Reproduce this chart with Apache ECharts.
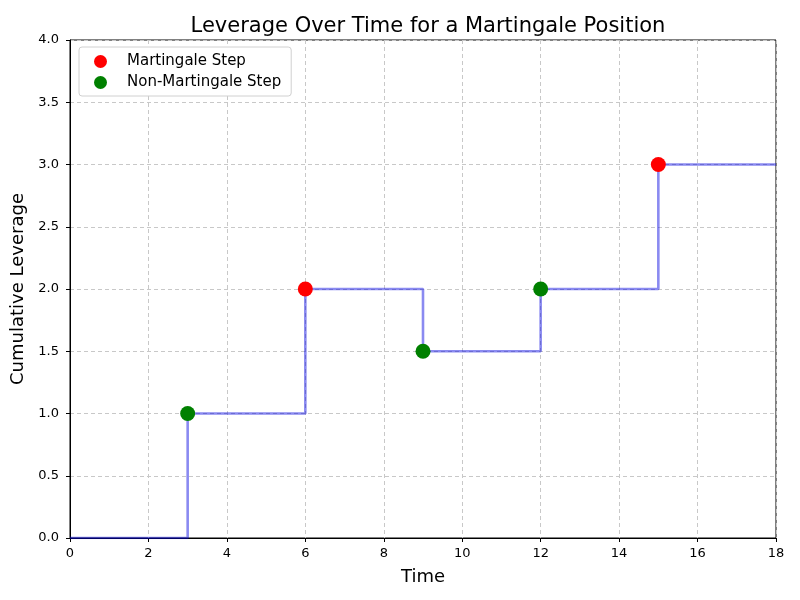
<!DOCTYPE html>
<html><head><meta charset="utf-8">
<script src="https://cdn.jsdelivr.net/npm/echarts@6/dist/echarts.min.js"></script>
<style>html,body{margin:0;padding:0;background:#fff}#c{width:800px;height:600px}</style>
</head><body><div id="c"></div>
<script>
const stepX = [0, 3, 6, 9, 12, 15, 18];
const stepY = [0, 1, 2, 1.5, 2, 3, 3];
const martX = [6, 15];
const martY = [2, 3];
const nonMartX = [3, 9, 12];
const nonMartY = [1, 1.5, 2];
const xTicks = [0, 2, 4, 6, 8, 10, 12, 14, 16, 18];
const yTicks = [0, 0.5, 1, 1.5, 2, 2.5, 3, 3.5, 4];

const font = 'DejaVu Sans';
const chart = echarts.init(document.getElementById('c'), null, {renderer: 'canvas'});
const zip = (xs, ys) => xs.map((x, i) => [x, ys[i]]);
chart.setOption({
  animation: false,
  backgroundColor: '#fff',
  textStyle: {fontFamily: font},
  title: {text: 'Leverage Over Time for a Martingale Position', left: 423, textAlign: 'center', top: 11,
    textStyle: {fontFamily: font, fontSize: 21, fontWeight: 'normal', color: '#000'}},
  grid: {left: 70, right: 24, top: 40, bottom: 62, show: true, borderColor: '#000', borderWidth: 1},
  legend: {
    orient: 'vertical', left: 79, top: 47, padding: [7, 10, 6, 15], itemGap: 6,
    backgroundColor: '#fff', borderColor: '#d0d0d0', borderWidth: 1, borderRadius: 3,
    itemWidth: 13, itemHeight: 13,
    textStyle: {fontFamily: font, fontSize: 15, color: '#000', padding: [0, 0, 0, 15]},
    data: [{name: 'Martingale Step', icon: 'circle'}, {name: 'Non-Martingale Step', icon: 'circle'}]
  },
  xAxis: {
    type: 'value', min: 0, max: 18, interval: 2,
    name: 'Time', nameLocation: 'middle', nameGap: 30,
    nameTextStyle: {fontFamily: font, fontSize: 18, color: '#000'},
    axisLine: {show: true, lineStyle: {color: '#000'}},
    axisTick: {show: true, length: 4, lineStyle: {color: '#000'}},
    axisLabel: {fontFamily: font, fontSize: 13, color: '#000', margin: 9},
    splitLine: {show: true, lineStyle: {type: [4, 3], color: '#c8c8c8'}}
  },
  yAxis: {
    type: 'value', min: 0, max: 4, interval: 0.5,
    name: 'Cumulative Leverage', nameLocation: 'middle', nameGap: 40,
    nameTextStyle: {fontFamily: font, fontSize: 18, color: '#000'},
    axisLine: {show: true, lineStyle: {color: '#000'}},
    axisTick: {show: true, length: 4, lineStyle: {color: '#000'}},
    axisLabel: {fontFamily: font, fontSize: 13, color: '#000', margin: 11,
      formatter: v => v.toFixed(1)},
    splitLine: {show: true, lineStyle: {type: [4, 3], color: '#c8c8c8'}}
  },
  series: [
    {name: 'Leverage', type: 'line', step: 'end', data: zip(stepX, stepY), showSymbol: false,
      symbol: 'none', lineStyle: {color: 'rgba(0,0,225,0.46)', width: 2.6}, z: 2},
    {name: 'Martingale Step', type: 'scatter', data: zip(martX, martY), symbolSize: 15,
      itemStyle: {color: '#ff0000', opacity: 1}, z: 3},
    {name: 'Non-Martingale Step', type: 'scatter', data: zip(nonMartX, nonMartY), symbolSize: 15,
      itemStyle: {color: '#008000', opacity: 1}, z: 3}
  ]
});
</script></body></html>
